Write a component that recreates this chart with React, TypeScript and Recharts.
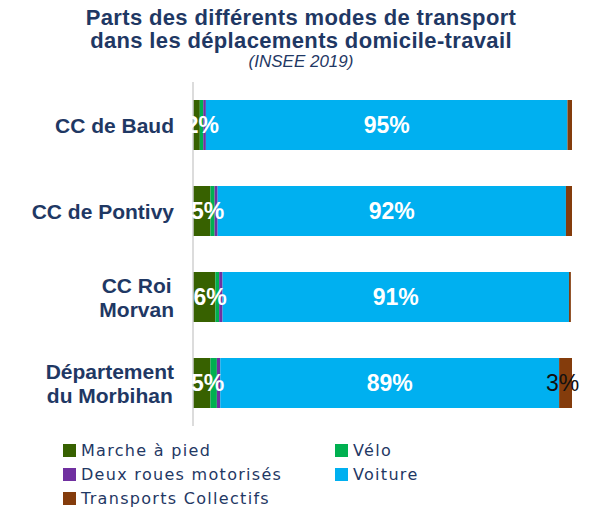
import React from 'react';
import { BarChart, Bar, XAxis, YAxis, LabelList } from 'recharts';

// Parts modales domicile-travail (INSEE 2019), en %
const categories = ['CC de Baud', 'CC de Pontivy', 'CC Roi\nMorvan', 'Département\ndu Morbihan'];
const marche = [1.8, 4.6, 5.9, 4.6];
const velo = [0.9, 1.1, 1.0, 1.7];
const deuxRoues = [0.7, 0.8, 0.9, 0.9];
const voiture = [95.4, 91.9, 91.4, 89.4];
const transports = [1.2, 1.6, 0.5, 3.4];

const seriesNames = ['Marche à pied', 'Vélo', 'Deux roues motorisés', 'Voiture', 'Transports Collectifs'];
const seriesKeys = ['marche', 'velo', 'deuxRoues', 'voiture', 'transports'];
const seriesColors = ['#376100', '#00b050', '#7030a0', '#00b0f0', '#843c0c'];

const data = categories.map((name, i) => ({
    name,
    marche: marche[i],
    velo: velo[i],
    deuxRoues: deuxRoues[i],
    voiture: voiture[i],
    transports: transports[i],
}));

const navy = '#1f3864';
const tickFont = 'bold 21px "Liberation Sans"';

let measureCtx: CanvasRenderingContext2D | null = null;
function textWidth(s: string) {
    if (!measureCtx) measureCtx = document.createElement('canvas').getContext('2d');
    if (!measureCtx) return s.length * 11;
    measureCtx.font = tickFont;
    return measureCtx.measureText(s).width;
}

// right-aligned block, lines centred inside it
function CategoryTick(props: any) {
    const { x, y, payload } = props;
    const lines: string[] = String(payload.value).split('\n');
    const maxW = Math.max(...lines.map(textWidth));
    const cx = x - maxW / 2;
    return (
        <g>
            {lines.map((l, i) => (
                <text
                    key={i}
                    x={cx}
                    y={y + (i - (lines.length - 1) / 2) * 24}
                    dy="0.36em"
                    textAnchor="middle"
                    fill={navy}
                    style={{ font: tickFont }}
                >
                    {l}
                </text>
            ))}
        </g>
    );
}

const fmt = (v: number) => `${Math.round(v)}%`;

function WhiteLabel(shift: number) {
    return (props: any) => {
        const { x, y, width, height, value } = props;
        return (
            <text
                x={x + width / 2 + shift}
                y={y + height / 2}
                dy="0.36em"
                textAnchor="middle"
                fill="#ffffff"
                style={{ font: 'bold 23px "Liberation Sans"' }}
            >
                {fmt(value)}
            </text>
        );
    };
}

function TcLabel(props: any) {
    const { x, y, width, height, value } = props;
    if (value < 2.5) return null;
    return (
        <text
            x={x + width / 2 - 3}
            y={y + height / 2}
            dy="0.36em"
            textAnchor="middle"
            fill="#111111"
            style={{ font: '23px "Liberation Sans"' }}
        >
            {fmt(value)}
        </text>
    );
}

function LegendBox() {
    const cells = [0, 1, 2, 3, 4];
    return (
        <div
            style={{
                position: 'absolute',
                left: 63,
                top: 438,
                display: 'grid',
                gridTemplateColumns: '272px 200px',
                gridAutoRows: '24px',
                fontFamily: '"DejaVu Sans"',
                fontSize: 16,
                letterSpacing: '1.3px',
                color: navy,
            }}
        >
            {cells.map((i) => (
                <div key={i} style={{ display: 'flex', alignItems: 'center', whiteSpace: 'nowrap' }}>
                    <span style={{ width: 13, height: 13, background: seriesColors[i], marginRight: 5, display: 'inline-block' }} />
                    {seriesNames[i]}
                </div>
            ))}
        </div>
    );
}

export default function App() {
    return (
        <div style={{ position: 'absolute', left: 0, top: 0, width: 602, height: 512, background: '#fff' }}>
            <div
                style={{
                    position: 'absolute',
                    left: 0,
                    top: 6,
                    width: 602,
                    textAlign: 'center',
                    color: navy,
                    fontFamily: '"Liberation Sans"',
                }}
            >
                <div style={{ fontWeight: 'bold', fontSize: 22, lineHeight: '23px', letterSpacing: '0.35px' }}>
                    Parts des différents modes de transport
                    <br />
                    dans les déplacements domicile-travail
                </div>
                <div style={{ fontStyle: 'italic', fontSize: 17, lineHeight: '20px' }}>(INSEE 2019)</div>
            </div>

            <BarChart
                width={602}
                height={512}
                data={data}
                layout="vertical"
                margin={{ top: 82, right: 30, bottom: 86, left: 0 }}
                style={{ position: 'absolute', left: 0, top: 0 }}
            >
                <XAxis type="number" domain={[0, 100]} hide />
                <YAxis
                    type="category"
                    dataKey="name"
                    width={193}
                    tickLine={false}
                    tickSize={0}
                    tickMargin={19}
                    axisLine={{ stroke: '#d0d0d0', strokeWidth: 1.5 }}
                    tick={<CategoryTick />}
                    interval={0}
                />
                {seriesKeys.map((k, i) => (
                    <Bar key={k} dataKey={k} name={seriesNames[i]} stackId="a" fill={seriesColors[i]} barSize={50} isAnimationActive={false}>
                        {k === 'marche' && <LabelList dataKey={k} content={WhiteLabel(6)} />}
                        {k === 'voiture' && <LabelList dataKey={k} content={WhiteLabel(0)} />}
                        {k === 'transports' && <LabelList dataKey={k} content={TcLabel} />}
                    </Bar>
                ))}
            </BarChart>

            <LegendBox />
        </div>
    );
}
